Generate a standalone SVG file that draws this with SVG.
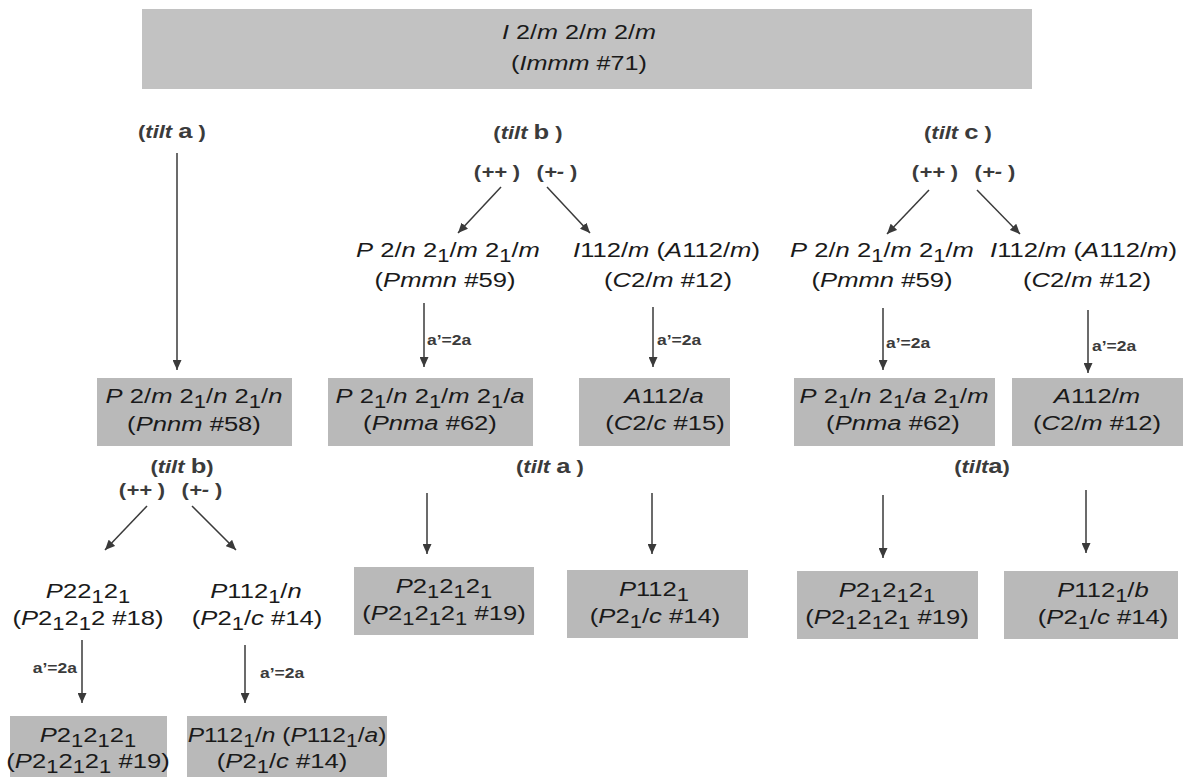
<svg xmlns="http://www.w3.org/2000/svg" width="1187" height="777" viewBox="0 0 1187 777">
<style>
.n{font-family:"Liberation Sans",Arial,sans-serif;font-size:21px;fill:#1a1a1a;text-anchor:middle}
.st{text-anchor:start}
.i{font-style:italic}
.s{font-size:18px}
.box{fill:#b9b9b9}
.top{fill:#c2c2c2}
.lb{font-family:"Liberation Sans",Arial,sans-serif;font-size:18px;font-weight:bold;fill:#3b3b3b;text-anchor:middle}
.lb .big{font-size:21px}
.ar{font-family:"Liberation Sans",Arial,sans-serif;font-size:14px;font-weight:bold;fill:#3b3b3b}
.c line{stroke:#3a3a3a;stroke-width:1.5;marker-end:url(#ah)}
</style>
<defs>
<marker id="ah" markerUnits="userSpaceOnUse" markerWidth="10" markerHeight="9" refX="10" refY="4.5" orient="auto">
<path d="M0,0 L10,4.5 L0,9 z" fill="#3a3a3a"/>
</marker>
</defs>
<rect width="1187" height="777" fill="#ffffff"/>

<g id="n-immm">
<rect class="top" x="142" y="9" width="890" height="80"/>
<text class="n" font-size="22" transform="translate(579 39) scale(1.2 1)"><tspan class="i">I</tspan> 2/<tspan class="i">m</tspan> 2/<tspan class="i">m</tspan> 2/<tspan class="i">m</tspan></text>
<text class="n" font-size="22" transform="translate(579 70) scale(1.2 1)">(<tspan class="i">Immm</tspan> #71)</text>
</g>

<g id="labels">
<text class="lb" transform="translate(172 138) scale(1.22 1)">(<tspan class="i">tilt</tspan> <tspan class="big">a</tspan> )</text>
<text class="lb" transform="translate(528 139) scale(1.22 1)">(<tspan class="i">tilt</tspan> <tspan class="big">b</tspan> )</text>
<text class="lb" transform="translate(497 178) scale(1.22 1)">(<tspan class="i">++</tspan> )</text>
<text class="lb" transform="translate(557 178) scale(1.22 1)">(<tspan class="i">+-</tspan> )</text>
<text class="lb" transform="translate(958 139) scale(1.22 1)">(<tspan class="i">tilt</tspan> <tspan class="big">c</tspan> )</text>
<text class="lb" transform="translate(935 178) scale(1.22 1)">(<tspan class="i">++</tspan> )</text>
<text class="lb" transform="translate(995 178) scale(1.22 1)">(<tspan class="i">+-</tspan> )</text>
<text class="lb" transform="translate(182 473) scale(1.22 1)">(<tspan class="i">tilt</tspan> <tspan class="big">b</tspan>)</text>
<text class="lb" transform="translate(142 496) scale(1.22 1)">(<tspan class="i">++</tspan> )</text>
<text class="lb" transform="translate(202 496) scale(1.22 1)">(<tspan class="i">+-</tspan> )</text>
<text class="lb" transform="translate(550 473) scale(1.22 1)">(<tspan class="i">tilt</tspan> <tspan class="big">a</tspan> )</text>
<text class="lb" transform="translate(982 473) scale(1.22 1)">(<tspan class="i">tilt</tspan><tspan class="big">a</tspan>)</text>
<text class="ar" transform="translate(427 345) scale(1.25 1)">a’=2a</text>
<text class="ar" transform="translate(657 345) scale(1.25 1)">a’=2a</text>
<text class="ar" transform="translate(886 348) scale(1.25 1)">a’=2a</text>
<text class="ar" transform="translate(1092 351) scale(1.25 1)">a’=2a</text>
<text class="ar" text-anchor="end" transform="translate(77 673) scale(1.25 1)">a’=2a</text>
<text class="ar" transform="translate(260 678) scale(1.25 1)">a’=2a</text>
</g>

<g id="n-pnnm">
<rect class="box" x="97" y="378" width="195" height="68"/>
<text class="n" transform="translate(194 403) scale(1.22 1)"><tspan class="i">P</tspan> 2/<tspan class="i">m</tspan> 2<tspan class="s" dy="5">1</tspan><tspan dy="-5">/</tspan><tspan class="i">n</tspan> 2<tspan class="s" dy="5">1</tspan><tspan dy="-5">/</tspan><tspan class="i">n</tspan></text>
<text class="n" transform="translate(194 431) scale(1.22 1)">(<tspan class="i">Pnnm</tspan> #58)</text>
</g>

<g id="n-pmmn-b">
<text class="n" transform="translate(448 257) scale(1.22 1)"><tspan class="i">P</tspan> 2/<tspan class="i">n</tspan> 2<tspan class="s" dy="5">1</tspan><tspan dy="-5">/</tspan><tspan class="i">m</tspan> 2<tspan class="s" dy="5">1</tspan><tspan dy="-5">/</tspan><tspan class="i">m</tspan></text>
<text class="n" transform="translate(445 287) scale(1.22 1)">(<tspan class="i">Pmmn</tspan> #59)</text>
</g>

<g id="n-i112-b">
<text class="n st" transform="translate(573 257) scale(1.22 1)"><tspan class="i">I</tspan>112/<tspan class="i">m</tspan> (<tspan class="i">A</tspan>112/<tspan class="i">m</tspan>)</text>
<text class="n" transform="translate(668 287) scale(1.22 1)">(<tspan class="i">C</tspan>2/<tspan class="i">m</tspan> #12)</text>
</g>

<g id="n-pmmn-c">
<text class="n" transform="translate(882 257) scale(1.22 1)"><tspan class="i">P</tspan> 2/<tspan class="i">n</tspan> 2<tspan class="s" dy="5">1</tspan><tspan dy="-5">/</tspan><tspan class="i">m</tspan> 2<tspan class="s" dy="5">1</tspan><tspan dy="-5">/</tspan><tspan class="i">m</tspan></text>
<text class="n" transform="translate(882 287) scale(1.22 1)">(<tspan class="i">Pmmn</tspan> #59)</text>
</g>

<g id="n-i112-c">
<text class="n st" transform="translate(990 257) scale(1.22 1)"><tspan class="i">I</tspan>112/<tspan class="i">m</tspan> (<tspan class="i">A</tspan>112/<tspan class="i">m</tspan>)</text>
<text class="n" transform="translate(1087 287) scale(1.22 1)">(<tspan class="i">C</tspan>2/<tspan class="i">m</tspan> #12)</text>
</g>

<g id="n-pnma-b">
<rect class="box" x="328" y="378" width="205" height="68"/>
<text class="n" transform="translate(430 403) scale(1.22 1)"><tspan class="i">P</tspan> 2<tspan class="s" dy="5">1</tspan><tspan dy="-5">/</tspan><tspan class="i">n</tspan> 2<tspan class="s" dy="5">1</tspan><tspan dy="-5">/</tspan><tspan class="i">m</tspan> 2<tspan class="s" dy="5">1</tspan><tspan dy="-5">/</tspan><tspan class="i">a</tspan></text>
<text class="n" transform="translate(430 430) scale(1.22 1)">(<tspan class="i">Pnma</tspan> #62)</text>
</g>

<g id="n-a112a">
<rect class="box" x="579" y="378" width="151" height="68"/>
<text class="n" transform="translate(664 403) scale(1.22 1)"><tspan class="i">A</tspan>112/<tspan class="i">a</tspan></text>
<text class="n" transform="translate(665 430) scale(1.22 1)">(<tspan class="i">C</tspan>2/<tspan class="i">c</tspan> #15)</text>
</g>

<g id="n-pnma-c">
<rect class="box" x="794" y="378" width="201" height="68"/>
<text class="n" transform="translate(894 403) scale(1.22 1)"><tspan class="i">P</tspan> 2<tspan class="s" dy="5">1</tspan><tspan dy="-5">/</tspan><tspan class="i">n</tspan> 2<tspan class="s" dy="5">1</tspan><tspan dy="-5">/</tspan><tspan class="i">a</tspan> 2<tspan class="s" dy="5">1</tspan><tspan dy="-5">/</tspan><tspan class="i">m</tspan></text>
<text class="n" transform="translate(893 430) scale(1.22 1)">(<tspan class="i">Pnma</tspan> #62)</text>
</g>

<g id="n-a112m">
<rect class="box" x="1012" y="378" width="171" height="68"/>
<text class="n" transform="translate(1097 403) scale(1.22 1)"><tspan class="i">A</tspan>112/<tspan class="i">m</tspan></text>
<text class="n" transform="translate(1097 430) scale(1.22 1)">(<tspan class="i">C</tspan>2/<tspan class="i">m</tspan> #12)</text>
</g>

<g id="n-p22121">
<text class="n" transform="translate(88 598) scale(1.22 1)"><tspan class="i">P</tspan>22<tspan class="s" dy="5">1</tspan><tspan dy="-5">2</tspan><tspan class="s" dy="5">1</tspan></text>
<text class="n" transform="translate(88 625) scale(1.22 1)">(<tspan class="i">P</tspan>2<tspan class="s" dy="5">1</tspan><tspan dy="-5">2</tspan><tspan class="s" dy="5">1</tspan><tspan dy="-5">2 #18)</tspan></text>
</g>

<g id="n-p1121n">
<text class="n" transform="translate(256 598) scale(1.22 1)"><tspan class="i">P</tspan>112<tspan class="s" dy="5">1</tspan><tspan dy="-5">/</tspan><tspan class="i">n</tspan></text>
<text class="n" transform="translate(257 625) scale(1.22 1)">(<tspan class="i">P</tspan>2<tspan class="s" dy="5">1</tspan><tspan dy="-5">/</tspan><tspan class="i">c</tspan> #14)</text>
</g>

<g id="n-p212121-a">
<rect class="box" x="10" y="716" width="157" height="61"/>
<text class="n" transform="translate(88 742) scale(1.22 1)"><tspan class="i">P</tspan>2<tspan class="s" dy="5">1</tspan><tspan dy="-5">2</tspan><tspan class="s" dy="5">1</tspan><tspan dy="-5">2</tspan><tspan class="s" dy="5">1</tspan></text>
<text class="n" transform="translate(88 768) scale(1.22 1)">(<tspan class="i">P</tspan>2<tspan class="s" dy="5">1</tspan><tspan dy="-5">2</tspan><tspan class="s" dy="5">1</tspan><tspan dy="-5">2</tspan><tspan class="s" dy="5">1</tspan><tspan dy="-5"> #19)</tspan></text>
</g>

<g id="n-p1121n-a">
<rect class="box" x="187" y="716" width="200" height="61"/>
<text class="n" transform="translate(287 742) scale(1.17 1)"><tspan class="i">P</tspan>112<tspan class="s" dy="5">1</tspan><tspan dy="-5">/</tspan><tspan class="i">n</tspan> (<tspan class="i">P</tspan>112<tspan class="s" dy="5">1</tspan><tspan dy="-5">/</tspan><tspan class="i">a</tspan>)</text>
<text class="n" transform="translate(282 768) scale(1.22 1)">(<tspan class="i">P</tspan>2<tspan class="s" dy="5">1</tspan><tspan dy="-5">/</tspan><tspan class="i">c</tspan> #14)</text>
</g>

<g id="n-p212121-b">
<rect class="box" x="354" y="567" width="180" height="68"/>
<text class="n" transform="translate(444 593) scale(1.22 1)"><tspan class="i">P</tspan>2<tspan class="s" dy="5">1</tspan><tspan dy="-5">2</tspan><tspan class="s" dy="5">1</tspan><tspan dy="-5">2</tspan><tspan class="s" dy="5">1</tspan></text>
<text class="n" transform="translate(444 620) scale(1.22 1)">(<tspan class="i">P</tspan>2<tspan class="s" dy="5">1</tspan><tspan dy="-5">2</tspan><tspan class="s" dy="5">1</tspan><tspan dy="-5">2</tspan><tspan class="s" dy="5">1</tspan><tspan dy="-5"> #19)</tspan></text>
</g>

<g id="n-p1121-b">
<rect class="box" x="567" y="570" width="181" height="68"/>
<text class="n" transform="translate(654 596) scale(1.22 1)"><tspan class="i">P</tspan>112<tspan class="s" dy="5">1</tspan></text>
<text class="n" transform="translate(655 623) scale(1.22 1)">(<tspan class="i">P</tspan>2<tspan class="s" dy="5">1</tspan><tspan dy="-5">/</tspan><tspan class="i">c</tspan> #14)</text>
</g>

<g id="n-p212121-c">
<rect class="box" x="797" y="571" width="181" height="68"/>
<text class="n" transform="translate(887 597) scale(1.22 1)"><tspan class="i">P</tspan>2<tspan class="s" dy="5">1</tspan><tspan dy="-5">2</tspan><tspan class="s" dy="5">1</tspan><tspan dy="-5">2</tspan><tspan class="s" dy="5">1</tspan></text>
<text class="n" transform="translate(887 624) scale(1.22 1)">(<tspan class="i">P</tspan>2<tspan class="s" dy="5">1</tspan><tspan dy="-5">2</tspan><tspan class="s" dy="5">1</tspan><tspan dy="-5">2</tspan><tspan class="s" dy="5">1</tspan><tspan dy="-5">  #19)</tspan></text>
</g>

<g id="n-p1121b-c">
<rect class="box" x="1004" y="571" width="174" height="68"/>
<text class="n" transform="translate(1103 597) scale(1.22 1)"><tspan class="i">P</tspan>112<tspan class="s" dy="5">1</tspan><tspan dy="-5">/</tspan><tspan class="i">b</tspan></text>
<text class="n" transform="translate(1103 624) scale(1.22 1)">(<tspan class="i">P</tspan>2<tspan class="s" dy="5">1</tspan><tspan dy="-5">/</tspan><tspan class="i">c</tspan> #14)</text>
</g>

<g id="connectors" class="c">
<line x1="177" y1="153" x2="177" y2="370"/>
<line x1="501" y1="187" x2="458" y2="233"/>
<line x1="547" y1="187" x2="590" y2="233"/>
<line x1="929" y1="190" x2="887" y2="234"/>
<line x1="977" y1="190" x2="1020" y2="234"/>
<line x1="424" y1="303" x2="424" y2="367"/>
<line x1="653" y1="307" x2="653" y2="367"/>
<line x1="883" y1="308" x2="883" y2="370"/>
<line x1="1088" y1="310" x2="1088" y2="373"/>
<line x1="147" y1="506" x2="105" y2="550"/>
<line x1="192" y1="506" x2="236" y2="550"/>
<line x1="427" y1="493" x2="427" y2="554"/>
<line x1="652" y1="493" x2="652" y2="554"/>
<line x1="883" y1="495" x2="883" y2="558"/>
<line x1="1086" y1="490" x2="1086" y2="553"/>
<line x1="82" y1="640" x2="82" y2="703"/>
<line x1="245" y1="645" x2="245" y2="703"/>
</g>
</svg>
